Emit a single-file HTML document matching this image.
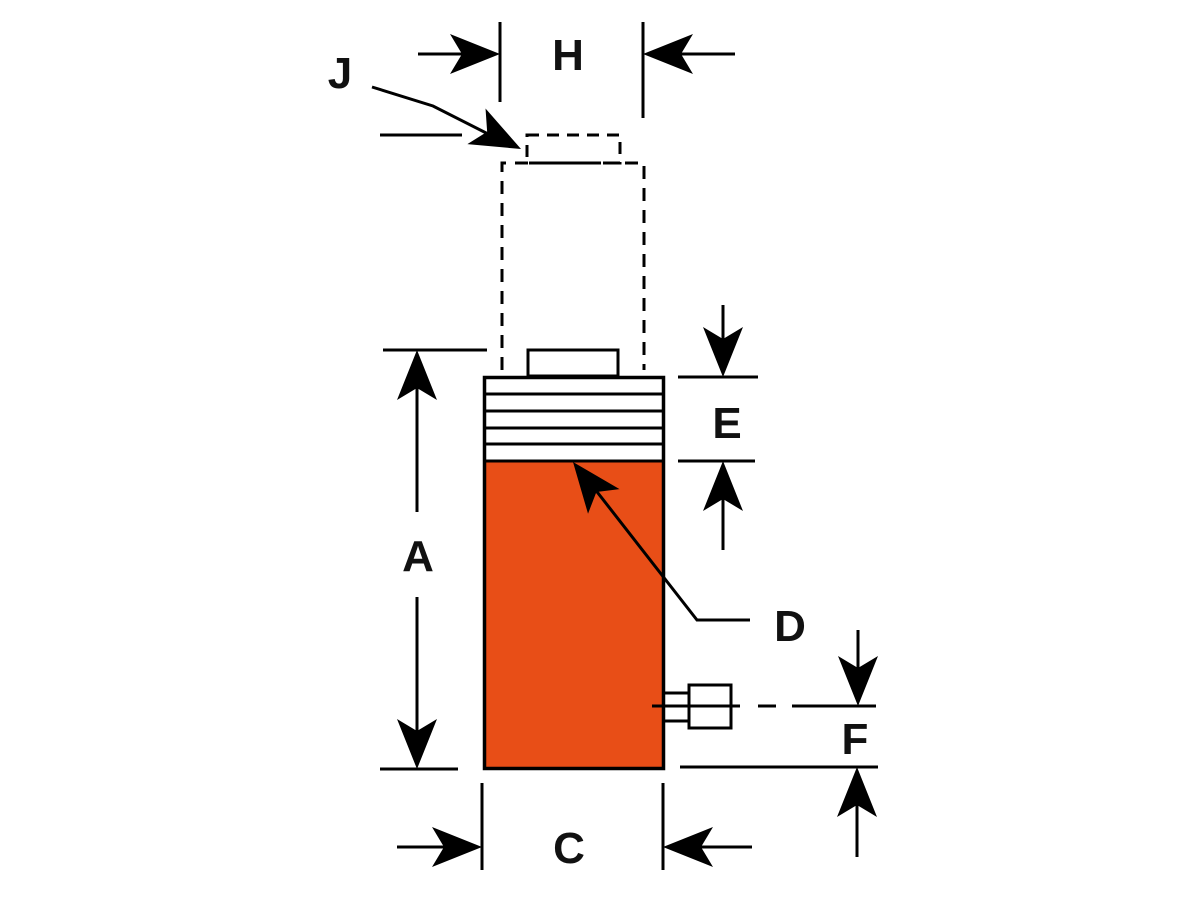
<!DOCTYPE html>
<html><head><meta charset="utf-8"><style>
html,body{margin:0;padding:0;background:#fff;}
svg{display:block}
text{font-family:"Liberation Sans",sans-serif;font-weight:bold;fill:#111;text-anchor:middle;}
</style></head><body>
<svg width="1200" height="900" viewBox="0 0 1200 900" xmlns="http://www.w3.org/2000/svg">
<defs>
<path id="ah" d="M0,0 L-50,-20 L-38,0 L-50,20 Z" fill="#000"/>
</defs>
<g stroke="#000" stroke-width="3" fill="none">
<!-- dashed extended ram -->
<rect x="527" y="135" width="93" height="28" stroke-dasharray="12,8"/>
<path d="M502,370 V163 H644 V370" stroke-dasharray="13,9"/>
<!-- plunger nub -->
<rect x="528" y="350" width="90" height="26" fill="#fff"/>
<!-- body -->
<rect x="483" y="461" width="182" height="308" fill="#E84E17" stroke="none"/>
<rect x="483" y="376" width="182" height="85" fill="#fff" stroke="none"/>
<rect x="484.5" y="377.5" width="179" height="391" stroke-width="3.5"/>
<path d="M484,394 H664 M484,411 H664 M484,428 H664 M484,444 H664 M484,461 H664"/>
<!-- fitting -->
<path d="M665,693 H690 M665,721 H690"/>
<rect x="689" y="685" width="42" height="43" fill="#fff"/>
<path d="M652,706 H740 M758,706 H776 M792,706 H876"/>
<!-- H -->
<path d="M500,22 V102 M643,22 V118 M418,54 H490 M735,54 H655"/>
<!-- J -->
<path d="M372,87 L433,106 L500,140 M380,135 H462"/>
<!-- A -->
<path d="M383,350 H487 M380,769 H458 M417,360 V512 M417,597 V760"/>
<!-- E -->
<path d="M678,377 H758 M678,461 H755 M723,305 V370 M723,550 V470"/>
<!-- D -->
<path d="M580,470 L697,620 H750"/>
<!-- F -->
<path d="M680,767 H878 M858,630 V700 M857,857 V775"/>
<!-- C -->
<path d="M482,783 V870 M663,783 V870 M397,847 H475 M752,847 H670"/>
</g>
<!-- arrowheads -->
<use href="#ah" transform="translate(500,54)"/>
<use href="#ah" transform="translate(643,54) rotate(180)"/>
<use href="#ah" transform="translate(521,149) rotate(27)"/>
<use href="#ah" transform="translate(417,350) rotate(-90)"/>
<use href="#ah" transform="translate(417,769) rotate(90)"/>
<use href="#ah" transform="translate(723,377) rotate(90)"/>
<use href="#ah" transform="translate(723,461) rotate(-90)"/>
<use href="#ah" transform="translate(573,462) rotate(-128)"/>
<use href="#ah" transform="translate(858,706) rotate(90)"/>
<use href="#ah" transform="translate(857,767) rotate(-90)"/>
<use href="#ah" transform="translate(482,847)"/>
<use href="#ah" transform="translate(663,847) rotate(180)"/>
<!-- labels -->
<text x="568" y="70" font-size="44">H</text>
<text x="340" y="88" font-size="44">J</text>
<text x="418" y="571" font-size="44">A</text>
<text x="727" y="438" font-size="44">E</text>
<text x="790" y="641" font-size="44">D</text>
<text x="855" y="754" font-size="44">F</text>
<text x="569" y="863" font-size="44">C</text>
</svg>
</body></html>
